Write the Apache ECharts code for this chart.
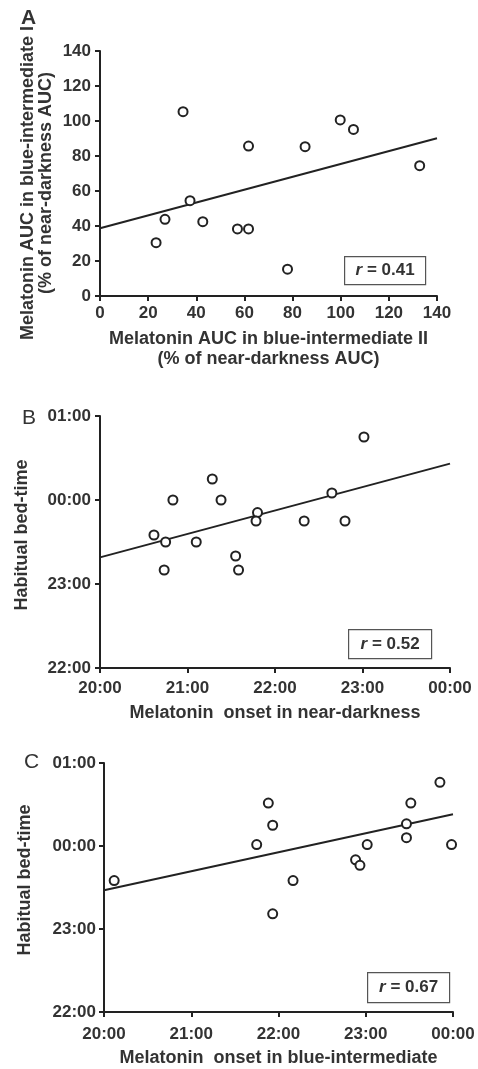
<!DOCTYPE html>
<html><head><meta charset="utf-8">
<script src="https://cdn.jsdelivr.net/npm/echarts@6/dist/echarts.min.js"></script>
<style>html,body{margin:0;padding:0;background:#fff}#c{width:478px;height:1069px}</style>
</head><body><div id="c"></div>
<script>
// Panel A: melatonin AUC (% of near-darkness AUC)
const aX = [34.5, 61.7, 85.2, 99.8, 105.3, 132.8, 23.3, 27.0, 37.4, 42.7, 57.1, 61.7, 77.9];
const aY = [105.3, 85.7, 85.3, 100.6, 95.2, 74.5, 30.5, 43.8, 54.5, 42.5, 38.3, 38.3, 15.3];
const aFitX = [0, 140];
const aFitY = [38.7, 90.1];
const aR = '0.41';

// Panel B: onset in near-darkness vs habitual bed-time
const bOnset = ['23:01','21:17','20:50','21:23','21:48','21:47','22:20','22:39','22:48','20:37','20:45','21:06','20:44','21:33','21:35'];
const bBed   = ['00:45','00:15','00:00','00:00','23:51','23:45','23:45','00:05','23:45','23:35','23:30','23:30','23:10','23:20','23:10'];
const bFitX = ['20:00','00:00'];
const bFitY = ['23:19','00:26'];
const bR = '0.52';

// Panel C: onset in blue-intermediate vs habitual bed-time
const cOnset = ['20:07','21:45','21:53','21:56','22:10','22:53','22:56','23:01','23:28','23:28','23:31','23:51','23:59','21:56'];
const cBed   = ['23:35','00:01','00:31','00:15','23:35','23:50','23:46','00:01','00:16','00:06','00:31','00:46','00:01','23:11'];
const cFitX = ['20:00','00:00'];
const cFitY = ['23:28','00:23'];
const cR = '0.67';

const xTicksAUC = [0,20,40,60,80,100,120,140];
const timeTicks = ['20:00','21:00','22:00','23:00','00:00'];
const bedTicks = ['22:00','23:00','00:00','01:00'];

function hrs(s){const [h,m]=s.split(':').map(Number);let v=h+m/60;if(h<12)v+=24;return v;}
function fmt(v){const h=Math.round(v)%24;return (h<10?'0':'')+h+':00';}
function pairs(xs,ys,f){return xs.map((x,i)=>[f(x),f(ys[i])]);}
const id=v=>v;

const TXT='#333', AX='#222', FONT='Liberation Sans, Arial, sans-serif';
function axisCommon(){
  return {
    axisLine:{lineStyle:{color:AX,width:2}},
    axisTick:{length:5,lineStyle:{color:AX,width:2}},
    splitLine:{show:false},
    axisLabel:{color:TXT,fontSize:17,fontWeight:'bold',fontFamily:FONT},
    nameTextStyle:{color:TXT,fontSize:18,fontWeight:'bold',fontFamily:FONT,lineHeight:20},
    nameLocation:'middle'
  };
}
const tMin=hrs(timeTicks[0]), tMax=hrs(timeTicks[timeTicks.length-1]);
const yMin=hrs(bedTicks[0]), yMax=hrs(bedTicks[bedTicks.length-1]);

const grids=[
  {left:100,top:51,width:337,height:245},
  {left:100,top:416,width:350,height:252},
  {left:104,top:763,width:349,height:253}
];
const xAxes=[
  Object.assign(axisCommon(),{gridIndex:0,type:'value',min:xTicksAUC[0],max:xTicksAUC[xTicksAUC.length-1],interval:20,
    name:'Melatonin AUC in blue-intermediate II\n(% of near-darkness AUC)',nameGap:33}),
  Object.assign(axisCommon(),{gridIndex:1,type:'value',min:tMin,max:tMax,interval:1,
    name:'Melatonin  onset in near-darkness',nameGap:35}),
  Object.assign(axisCommon(),{gridIndex:2,type:'value',min:tMin,max:tMax,interval:1,
    name:'Melatonin  onset in blue-intermediate',nameGap:36})
];
xAxes[0].axisLabel=Object.assign({},xAxes[0].axisLabel,{margin:9});
xAxes[1].axisLabel=Object.assign({},xAxes[1].axisLabel,{margin:12,formatter:fmt});
xAxes[2].axisLabel=Object.assign({},xAxes[2].axisLabel,{margin:14,formatter:fmt});
const yAxes=[
  Object.assign(axisCommon(),{gridIndex:0,type:'value',min:0,max:140,interval:20}),
  Object.assign(axisCommon(),{gridIndex:1,type:'value',min:yMin,max:yMax,interval:1}),
  Object.assign(axisCommon(),{gridIndex:2,type:'value',min:yMin,max:yMax,interval:1})
];
yAxes[0].axisLabel=Object.assign({},yAxes[0].axisLabel,{margin:9});
yAxes[1].axisLabel=Object.assign({},yAxes[1].axisLabel,{margin:9,formatter:fmt});
yAxes[2].axisLabel=Object.assign({},yAxes[2].axisLabel,{margin:8,formatter:fmt});

function scat(i,data){return {type:'scatter',xAxisIndex:i,yAxisIndex:i,data:data,symbol:'circle',symbolSize:9,
  itemStyle:{color:'#fff',borderColor:'#222',borderWidth:2,opacity:1},z:3,silent:true};}
function fit(i,data){return {type:'line',xAxisIndex:i,yAxisIndex:i,data:data,symbol:'none',
  lineStyle:{color:'#222',width:2},z:2,silent:true};}

function rbox(x,y,w,h,val){
  return {type:'group',left:x,top:y,children:[
    {type:'rect',shape:{x:0,y:0,width:w,height:h},style:{fill:'#fff',stroke:'#555',lineWidth:1.2}},
    {type:'text',x:w/2,y:h/2,style:{text:'{i|r} = '+val,align:'center',verticalAlign:'middle',
      fill:TXT,font:'bold 17px '+FONT,rich:{i:{fontStyle:'italic',fontWeight:'bold',fontSize:17,fontFamily:FONT,fill:TXT}}}}
  ]};
}
const letter=(t,x,y,w)=>({type:'text',left:x,top:y,style:{text:t,fill:TXT,font:w+' 21px '+FONT}});
const ytitle=(t,cx,cy)=>({type:'text',x:cx,y:cy,rotation:Math.PI/2,
  style:{text:t,align:'center',verticalAlign:'middle',fill:TXT,font:'bold 18px '+FONT,lineHeight:18}});

const option={
  animation:false,
  grid:grids,xAxis:xAxes,yAxis:yAxes,
  series:[
    fit(0,pairs(aFitX,aFitY,id)),scat(0,pairs(aX,aY,id)),
    fit(1,pairs(bFitX,bFitY,hrs)),scat(1,pairs(bOnset,bBed,hrs)),
    fit(2,pairs(cFitX,cFitY,hrs)),scat(2,pairs(cOnset,cBed,hrs))
  ],
  graphic:[
    letter('A',21,8,'bold'),letter('B',22,408,'normal'),letter('C',24,752,'normal'),
    ytitle('Melatonin AUC in blue-intermediate I\n(% of near-darkness AUC)',37,183),
    ytitle('Habitual bed-time',22,535),
    ytitle('Habitual bed-time',25,880),
    rbox(344,256,81,28,aR),rbox(348,629,83,29,bR),rbox(367,972,82,30,cR)
  ]
};
const chart=echarts.init(document.getElementById('c'),null,{renderer:'canvas'});
chart.setOption(option);
</script></body></html>
